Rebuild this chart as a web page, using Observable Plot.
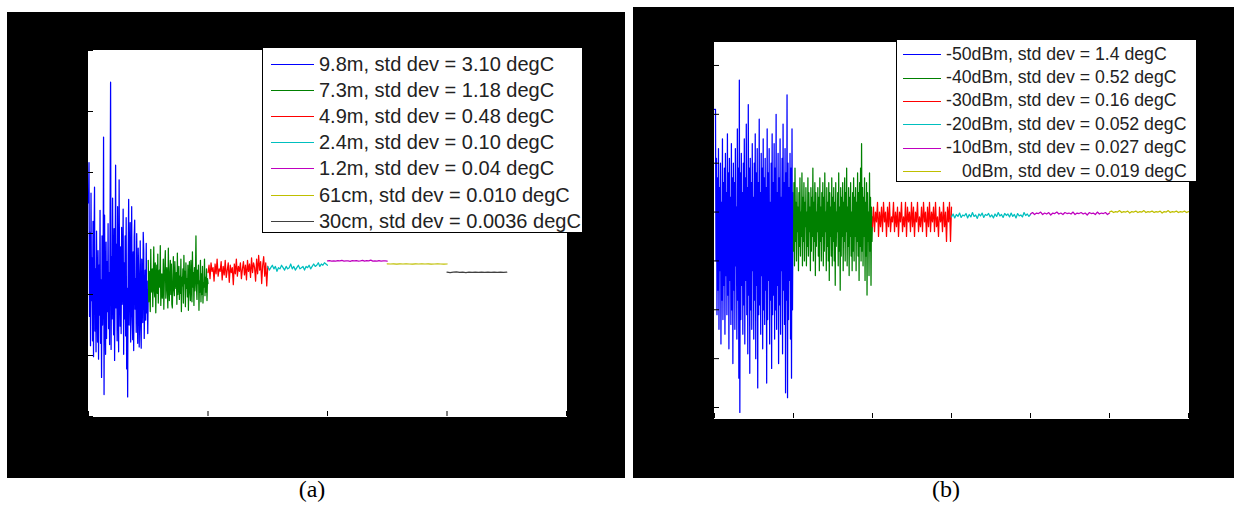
<!DOCTYPE html>
<html><head><meta charset="utf-8">
<script src="https://cdn.jsdelivr.net/npm/d3@7"></script>
<script src="https://cdn.jsdelivr.net/npm/@observablehq/plot@0.6"></script>
<style>
body{margin:0;background:#fff;width:1234px;height:512px;position:relative;overflow:hidden;font-family:"Liberation Sans",Arial,sans-serif}
.panel{position:absolute}
.panel svg{display:block}
.legend{position:absolute;background:#fff;border:1px solid #000;box-sizing:border-box;color:#222}
.row{position:absolute;left:0;right:0;white-space:pre}
.swatch{position:absolute;height:1px}
.label{position:absolute;top:0}
.cap{position:absolute;font-family:"Liberation Serif","Times New Roman",serif;font-size:24px;color:#000;transform:translateX(-50%)}
</style></head>
<body>
<div id="pa" class="panel" style="left:7px;top:12px"></div>
<div id="pb" class="panel" style="left:633px;top:7px"></div>
<div class="cap" style="left:312px;top:476px">(a)</div>
<div class="cap" style="left:946px;top:476px">(b)</div>
<script>
// ---------- Panel (a): distance series, temperature (degC) vs time ----------
const namesA = ["9.8m","7.3m","4.9m","2.4m","1.2m","61cm","30cm"];
const stdA = ["3.10","1.18","0.48","0.10","0.04","0.010","0.0036"];
const colorsA = ["#0000ff","#008000","#ff0000","#00bfbf","#bf00bf","#bfbf00","#404040"];
const xTicksA = [0,2,4,6,8];
const yTicksA = [0,5,10,15,20,25,30];
const a_98m = [17.5,20.8,8.2,15.1,5.8,18.3,9.5,13.0,6.2,16.0,4.9,14.2,18.8,7.0,12.1,5.3,15.2,9.8,6.1,13.6,
  4.7,12.4,8.3,16.9,6.0,11.2,3.2,14.8,7.5,10.6,22.9,1.8,16.5,9.0,5.1,14.3,6.4,12.7,8.6,15.8,
  7.2,11.8,5.9,16.4,27.4,5.5,13.1,8.0,17.9,10.2,6.7,15.4,4.6,12.3,20.6,8.9,14.1,6.2,17.2,9.7,
  5.3,19.4,10.8,7.4,13.9,6.8,15.5,9.2,11.4,17.0,5.1,12.6,8.0,14.8,6.6,16.3,3.9,10.5,1.6,13.2,
  17.8,7.5,12.2,15.9,6.1,10.1,17.2,8.3,6.3,13.5,5.4,14.7,16.1,8.8,11.3,6.9,15.0,9.9,6.0,13.8,
  11.7,5.7,9.4,14.4,7.2,5.6,12.9,10.3,7.7,15.1,13.6,6.4,9.6,12.0,7.9,14.2,8.5,11.1,6.8,10.4];
const a_73m = [12.8,9.4,11.9,10.7,8.6,13.7,10.2,11.5,12.1,9.0,11.4,13.9,10.3,9.8,12.6,8.5,11.2,12.4,10.1,13.3,
  9.3,11.6,12.0,10.6,14.0,9.1,10.8,11.7,9.7,10.4,12.9,8.8,11.0,12.3,13.6,9.7,10.9,12.2,10.3,8.9,
  13.8,11.1,9.5,11.6,12.8,10.0,12.5,9.2,8.9,11.3,13.1,10.4,9.9,12.7,11.2,10.5,11.8,9.2,13.4,10.0,
  10.8,12.3,9.6,11.5,10.1,12.9,8.6,11.4,10.7,12.1,9.3,13.2,10.9,11.9,9.0,12.6,10.5,11.3,9.8,12.4,
  8.7,11.1,12.7,10.2,9.5,12.8,11.0,9.4,13.5,10.6,11.8,9.1,12.2,10.3,11.6,14.8,10.7,9.6,12.0,10.9,
  12.4,8.7,11.1,10.2,12.8,9.4,11.7,10.0,12.3,9.3,11.0,10.6,12.9,9.9,11.4,10.2,12.1,9.5,11.3,10.9];
const a_49m = [11.8,12.4,11.3,12.6,11.9,12.2,11.1,12.5,11.7,12.9,
  11.5,12.1,11.9,12.7,11.2,12.3,11.6,12.8,11.4,12.0,
  12.6,11.0,12.4,11.8,12.2,10.8,12.5,11.7,12.9,11.5,
  12.3,11.9,12.6,11.3,12.1,12.7,11.6,12.4,11.2,12.8,
  11.9,12.5,11.4,13.0,11.8,12.6,12.2,11.1,12.9,11.7,
  13.2,12.0,12.7,10.9,12.4,13.1,11.5,12.6,10.7,12.3];
const a_24m = [12.3,12.0,12.2,12.4,12.1,12.3,11.9,12.2,12.1,12.4,
  12.2,12.0,12.3,12.1,12.2,12.5,12.1,12.3,12.0,12.2,
  12.4,12.1,12.2,12.3,12.0,12.3,12.2,12.4,12.1,12.3,
  12.5,12.3,12.4,12.6,12.3,12.5,12.4,12.6,12.5,12.4];
const a_12m = [12.75,12.78,12.74,12.76,12.73,12.77,12.75,12.79,12.74,12.76,
  12.75,12.72,12.77,12.75,12.78,12.74,12.76,12.80,12.73,12.77,
  12.75,12.82,12.74,12.76,12.73,12.77,12.74,12.76,12.75,12.74];
const a_61cm = [12.52,12.50,12.51,12.49,12.51,12.50,12.52,12.50,12.49,12.51,
  12.50,12.52,12.50,12.51,12.49,12.50,12.51,12.50,12.49,12.50];
const a_30cm = [11.84,11.80,11.83,11.86,11.81,11.83,11.80,11.84,11.82,11.83,
  11.81,11.84,11.82,11.83,11.81,11.83,11.82,11.84,11.81,11.83];
const valuesA = [a_98m,a_73m,a_49m,a_24m,a_12m,a_61cm,a_30cm];

// ---------- Panel (b): power series ----------
const namesB = ["-50dBm","-40dBm","-30dBm","-20dBm","-10dBm","0dBm"];
const stdB = ["1.4","0.52","0.16","0.052","0.027","0.019"];
const colorsB = ["#0000ff","#008000","#ff0000","#00bfbf","#bf00bf","#bfbf00"];
const xTicksB = [0,1,2,3,4,5,6];
const yTicksB = [0,1,2,3,4,5,6,7];
const b_50 = [6.1,6.1,6.1,3.0,5.1,1.9,4.7,2.4,5.3,1.6,4.5,2.8,5.0,1.3,4.2,2.2,5.5,1.8,4.6,2.5,
  4.9,1.5,5.2,2.7,4.4,1.9,5.6,2.3,4.8,1.2,5.1,2.6,4.3,1.7,5.4,2.0,4.7,0.9,5.0,2.4,
  4.6,1.6,5.3,2.9,4.1,1.4,5.7,2.2,4.9,0.6,6.7,-0.1,4.8,1.8,5.2,2.5,4.4,1.5,5.0,2.1,
  5.5,1.3,4.7,2.6,5.8,1.9,4.5,1.1,6.2,2.3,4.9,0.7,5.1,2.0,4.6,1.6,5.4,2.8,4.3,1.4,
  5.0,2.2,5.6,1.0,4.8,2.5,5.3,0.4,4.6,1.9,5.9,2.1,4.4,1.5,5.2,2.7,4.9,1.2,5.5,2.0,
  4.7,1.7,5.1,2.4,4.5,0.5,5.7,1.8,4.8,2.6,5.3,1.3,4.2,2.2,5.0,0.8,5.6,1.9,4.6,2.3,
  5.4,1.4,4.9,2.0,6.0,1.6,4.4,2.5,5.2,0.9,4.7,2.1,5.5,1.5,4.3,2.8,5.1,1.1,5.8,2.4,
  4.6,1.7,5.3,0.3,4.8,2.2,6.4,0.2,5.0,1.8,4.5,2.6,5.2,1.4,4.9,0.6,5.7,2.0,4.4,3.6];
const b_40 = [3.2,4.6,2.9,4.9,3.4,4.2,3.0,4.5,3.6,4.1,2.8,4.4,3.3,4.7,3.1,4.0,3.5,4.8,2.9,4.3,
  3.4,4.6,3.0,4.2,3.7,4.5,2.9,4.0,3.3,4.7,3.1,4.4,3.6,4.1,2.8,4.5,3.2,4.3,3.5,4.9,
  3.0,4.2,3.4,4.6,2.7,4.4,3.3,4.0,3.6,4.5,3.1,4.3,2.8,4.7,3.4,4.1,3.0,4.4,3.5,4.6,
  2.9,4.3,3.2,4.8,3.6,4.0,2.8,4.5,3.3,4.2,3.0,4.6,2.6,4.4,3.5,4.1,3.1,4.7,2.9,4.3,
  3.4,4.5,3.0,4.2,2.5,4.6,3.3,4.0,3.6,4.4,2.9,4.8,3.2,4.1,2.4,4.5,3.1,4.3,3.5,4.6,
  2.8,4.2,3.4,4.7,3.0,4.4,3.6,4.9,2.9,4.1,3.3,4.5,2.7,4.3,3.5,4.6,3.1,4.0,2.8,4.4,
  3.2,4.7,3.0,4.3,3.5,4.5,2.8,4.2,3.4,4.8,3.1,4.4,2.6,4.6,3.3,4.9,3.0,5.4,3.2,4.5,
  2.9,4.3,3.5,4.7,2.6,4.2,3.1,4.6,2.3,4.4,3.4,4.0,2.7,4.8,3.2,4.3,2.5,4.1,3.4,3.9];
const b_30 = [3.7,4.1,3.6,4.0,3.8,4.2,3.5,4.0,3.7,4.1,
  3.6,4.2,3.8,4.0,3.5,4.1,3.7,4.2,3.6,3.9,
  3.8,4.2,3.6,4.0,3.7,4.1,3.5,4.0,3.8,4.2,
  3.6,3.9,3.7,4.2,3.5,4.1,3.8,4.0,3.6,4.2,
  3.7,4.1,3.5,4.0,3.8,4.2,3.6,3.9,3.7,4.1,
  3.6,4.2,3.8,4.0,3.5,4.1,3.7,4.2,3.6,4.0,
  3.8,4.1,3.6,4.2,3.7,3.9,3.5,4.1,3.8,4.0,
  3.6,4.2,3.7,4.0,3.4,4.1,3.8,4.2,3.4,4.1];
const b_20 = [3.90,3.96,3.88,3.95,3.91,3.98,3.89,3.94,3.92,3.97,
  3.88,3.95,3.90,3.99,3.91,3.94,3.87,3.96,3.92,3.98,
  3.89,3.95,3.93,3.97,3.90,3.94,3.88,3.96,3.91,3.99,
  3.92,3.95,3.89,3.97,3.93,3.96,3.90,3.98,3.91,3.95,
  3.88,3.97,3.92,3.94,3.90,3.99,3.93,3.96,3.91,3.95];
const b_10 = [3.96,3.99,3.95,3.98,3.97,4.00,3.95,3.98,3.96,3.99,
  3.94,3.98,3.97,4.00,3.96,3.98,3.95,3.99,3.97,3.98,
  3.96,4.00,3.95,3.98,3.97,3.99,3.96,3.98,3.94,3.99,
  3.97,3.98,3.95,4.00,3.96,3.98,3.97,3.99,3.95,3.98];
const b_0 = [4.00,4.02,3.99,4.01,4.00,4.03,3.99,4.01,4.00,4.02,
  3.98,4.01,4.00,4.02,3.99,4.01,4.00,4.03,3.99,4.01,
  4.00,4.02,3.99,4.01,4.00,4.02,3.98,4.01,4.00,4.03,
  3.99,4.01,4.00,4.02,3.99,4.01,4.00,4.02,3.99,4.01];
const valuesB = [b_50,b_40,b_30,b_20,b_10,b_0];

function buildRows(names, values) {
  // segment k occupies x in [k, k+1]; samples are equally spaced inside it
  return names.flatMap((name, k) => values[k].map((v, i, arr) => ({s: name, x: k + i / (arr.length - 1), y: v})));
}

function chart(cfg) {
  const innerW = cfg.width - cfg.ml - cfg.mr;
  const innerH = cfg.height - cfg.mt - cfg.mb;
  return Plot.plot({
    width: cfg.width, height: cfg.height,
    marginLeft: cfg.ml, marginRight: cfg.mr, marginTop: cfg.mt, marginBottom: cfg.mb,
    style: {background: "#000", overflow: "visible"},
    x: {domain: cfg.xDomain, axis: null},
    y: {domain: cfg.yDomain, axis: null},
    color: {domain: cfg.names, range: cfg.colors},
    marks: [
      Plot.frame({fill: "#fff", stroke: "#fff"}),
      Plot.line(cfg.rows, {x: "x", y: "y", z: "s", stroke: "s", strokeWidth: 1.25}),
      Plot.tickX(cfg.xTicks, {x: d => d, stroke: "#000", insetTop: innerH - 5}),
      Plot.tickY(cfg.yTicks, {y: d => d, stroke: "#000", insetRight: innerW - 5})
    ]
  });
}

function legend(parent, opt) {
  const box = document.createElement("div");
  box.className = "legend";
  Object.assign(box.style, {left: opt.left + "px", top: opt.top + "px", width: opt.w + "px", height: opt.h + "px", fontSize: opt.fs + "px"});
  opt.labels.forEach((lab, k) => {
    const row = document.createElement("div");
    row.className = "row";
    Object.assign(row.style, {top: (opt.rowTop + k * opt.rowH) + "px", height: opt.rowH + "px", lineHeight: opt.rowH + "px"});
    const sw = document.createElement("div");
    sw.className = "swatch";
    Object.assign(sw.style, {left: opt.swL + "px", width: opt.swW + "px", top: (opt.rowH / 2) + "px", background: opt.colors[k]});
    const tx = document.createElement("span");
    tx.className = "label";
    tx.style.left = (opt.txL + (opt.indent[k] || 0)) + "px";
    tx.textContent = lab;
    row.append(sw, tx);
    box.append(row);
  });
  parent.append(box);
}

document.getElementById("pa").append(chart({
  width: 618, height: 466, ml: 81, mr: 59, mt: 38, mb: 62,
  xDomain: [0, 8], yDomain: [0, 30], xTicks: xTicksA, yTicks: yTicksA,
  names: namesA, colors: colorsA, rows: buildRows(namesA, valuesA)
}));
document.getElementById("pb").append(chart({
  width: 601, height: 471, ml: 81, mr: 46, mt: 35, mb: 60,
  xDomain: [0, 6], yDomain: [-0.225, 7.47], xTicks: xTicksB, yTicks: yTicksB,
  names: namesB, colors: colorsB, rows: buildRows(namesB, valuesB)
}));

legend(document.body, {
  left: 262, top: 47, w: 321, h: 186, fs: 20, rowTop: 3, rowH: 26.1,
  swL: 8, swW: 43, txL: 56, indent: [],
  labels: namesA.map((n, k) => `${n}, std dev = ${stdA[k]} degC`), colors: colorsA
});
legend(document.body, {
  left: 896, top: 39, w: 301, h: 143, fs: 17.7, rowTop: 2.5, rowH: 23.4,
  swL: 6, swW: 38, txL: 49, indent: [0,0,0,0,0,16],
  labels: namesB.map((n, k) => `${n}, std dev = ${stdB[k]} degC`), colors: colorsB
});
</script>
</body></html>
